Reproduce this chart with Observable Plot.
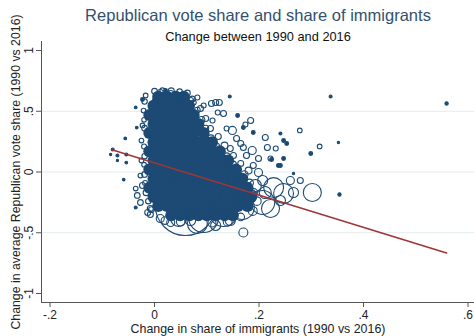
<!DOCTYPE html>
<html><head><meta charset="utf-8">
<script src="https://cdn.jsdelivr.net/npm/d3@7"></script>
<script src="https://cdn.jsdelivr.net/npm/@observablehq/plot@0.6"></script>
<style>body{margin:0;background:#fff} svg{display:block}</style>
</head><body><div id="chart"></div>
<script>
const titleText = "Republican vote share and share of immigrants";
const subtitleText = "Change between 1990 and 2016";
const xLabel = "Change in share of immigrants (1990 vs 2016)";
const yLabel = "Change in average Republican vote share (1990 vs 2016)";
const xTicks = [-0.2, 0, 0.2, 0.4, 0.6];
const yTicks = [-1, -0.5, 0, 0.5, 1];
const gridValues = [-0.5, 0, 0.5];

// dense core of the cloud (thousands of overlapping counties), approximated
const coreRowY = [0.62, 0.545, 0.47, 0.395, 0.32, 0.245, 0.17, 0.095, 0.02, -0.055, -0.13, -0.205, -0.28, -0.355];
const coreRowX = [
  [0.007, 0.024, 0.041, 0.056],
  [-0.002, 0.016, 0.032, 0.049, 0.066],
  [-0.010, 0.007, 0.024, 0.041, 0.058, 0.075],
  [-0.002, 0.015, 0.033, 0.050, 0.066, 0.084],
  [-0.010, 0.007, 0.024, 0.041, 0.058, 0.075, 0.094],
  [-0.002, 0.016, 0.032, 0.049, 0.067, 0.084, 0.100, 0.110],
  [-0.010, 0.007, 0.024, 0.041, 0.058, 0.075, 0.092, 0.109, 0.125],
  [-0.002, 0.015, 0.033, 0.050, 0.066, 0.083, 0.101, 0.118, 0.134, 0.141],
  [-0.010, 0.007, 0.024, 0.041, 0.058, 0.075, 0.092, 0.109, 0.126, 0.143, 0.156],
  [-0.002, 0.016, 0.032, 0.049, 0.067, 0.084, 0.100, 0.117, 0.135, 0.151, 0.168],
  [-0.010, 0.007, 0.024, 0.041, 0.058, 0.075, 0.092, 0.109, 0.126, 0.143, 0.160, 0.178],
  [-0.002, 0.015, 0.033, 0.050, 0.066, 0.083, 0.101, 0.118, 0.134, 0.152, 0.169, 0.185],
  [0.007, 0.024, 0.041, 0.058, 0.075, 0.092, 0.109, 0.126, 0.143, 0.160, 0.178],
  [0.032, 0.049, 0.067, 0.084, 0.100, 0.117, 0.134, 0.150]
];

// individually visible counties: change in immigrant share, change in GOP share, population (thousands)
const countyX = [
  -0.080, -0.071, -0.054, -0.054, -0.071, -0.084, -0.056, -0.036, -0.034, -0.023, -0.017,
  -0.059, -0.036, -0.033, -0.027, -0.036, -0.013, -0.008,
  0.011, 0.002, 0.031, 0.050, 0.069, 0.082, 0.021,
  0.144, 0.117, 0.124, 0.109, 0.075, 0.094, 0.159, 0.132, 0.121, 0.184, 0.174, 0.170, 0.149,
  0.189, 0.212, 0.241, 0.247, 0.187, 0.165, 0.170, 0.216, 0.232, 0.199, 0.222, 0.247, 0.189,
  0.237, 0.145, 0.278, 0.316, 0.299, 0.352, 0.337, 0.559, 0.253, 0.266, 0.241, 0.224,
  0.098, 0.107, 0.122, 0.134, 0.151, 0.165, 0.180, 0.111, 0.138, 0.157, 0.176, 0.199, 0.207, 0.088,
  0.228, 0.247, 0.302, 0.266, 0.222, 0.207, 0.168, 0.132, 0.094, 0.082, 0.059, 0.046, 0.170,
  0.354, 0.184, 0.193, 0.212, 0.165, 0.151, 0.260, 0.279, 0.241,
  0.011, 0.031, 0.069, 0.117, -0.008, 0.145,
  -0.021, -0.023, -0.025, -0.025, -0.027, -0.023,
  -0.019, -0.020, -0.019, -0.020, -0.019, -0.020, -0.019, -0.018, -0.016, -0.012, -0.006,
  0.000, 0.015, 0.032, 0.048, 0.063,
  0.072, 0.082, 0.090, 0.098, 0.108, 0.118, 0.138, 0.150, 0.172, 0.182, 0.190, 0.196, 0.188, 0.165,
  0.020, 0.050, 0.110, 0.140
];
const countyY = [
  0.185, 0.136, 0.144, 0.078, 0.095, 0.144, 0.276, 0.531, 0.366, 0.597, 0.630,
  -0.062, -0.136, -0.193, -0.251, -0.292, -0.333, -0.300,
  0.654, 0.588, 0.646, 0.630, 0.588, 0.613, 0.671,
  0.621, 0.572, 0.572, 0.564, 0.572, 0.547, 0.465, 0.481, 0.490, 0.424, 0.391, 0.366, 0.342,
  0.325, 0.284, 0.317, 0.259, 0.177, 0.235, 0.202, 0.202, 0.193, 0.111, 0.111, 0.111, 0.053,
  0.053, 0.193, 0.342, 0.210, 0.152, 0.243, 0.621, 0.564, 0.235, -0.012, 0.053, 0.103,
  0.440, 0.358, 0.292, 0.218, 0.136, 0.070, 0.012, 0.424, 0.358, 0.276, 0.136, -0.004, -0.070, 0.523,
  -0.128, -0.177, -0.169, -0.169, -0.300, -0.251, -0.292, -0.333, -0.374, -0.424, -0.276, -0.383, -0.498,
  -0.185, -0.193, -0.111, -0.169, -0.235, -0.070, -0.070, -0.070, -0.235,
  -0.383, -0.416, -0.399, -0.440, -0.350, -0.399,
  0.506, 0.383, 0.259, 0.095, -0.029, -0.111,
  0.580, 0.430, 0.360, 0.210, 0.130, 0.060, -0.020, -0.090, -0.170, -0.240, -0.310,
  0.665, 0.672, 0.668, 0.662, 0.650,
  0.600, 0.510, 0.430, 0.360, 0.280, 0.210, 0.130, 0.060, -0.020, -0.090, -0.170, -0.240, -0.320, -0.370,
  -0.400, -0.410, -0.420, -0.410
];
const countyPop = [
  25, 25, 25, 20, 15, 15, 20, 20, 20, 40, 60,
  20, 60, 90, 90, 25, 100, 100,
  100, 100, 100, 100, 100, 70, 40,
  25, 100, 100, 100, 70, 70, 40, 100, 70, 100, 70, 40, 180,
  40, 100, 25, 40, 180, 100, 100, 100, 70, 100, 70, 40, 100,
  40, 100, 60, 60, 40, 15, 25, 30, 40, 15, 40, 40,
  100, 100, 100, 130, 100, 100, 130, 70, 70, 100, 100, 180, 280, 100,
  1100, 1100, 900, 280, 900, 1600, 1600, 2200, 2500, 1100, 10000, 700, 225,
  30, 400, 400, 400, 400, 280, 180, 100, 280,
  180, 180, 280, 280, 100, 280,
  60, 60, 60, 60, 60, 100,
  80, 60, 90, 70, 80, 60, 90, 70, 100, 80, 90,
  90, 70, 100, 80, 90,
  100, 90, 120, 100, 110, 130, 120, 140, 150, 160, 180, 200, 220, 160,
  160, 200, 180, 220
];

// fitted (weighted) regression line, read at its two ends
const fitX = [-0.080, 0.559];
const fitY = [0.181, -0.667];

const core = coreRowY.flatMap((y, i) => coreRowX[i].map(x => ({x, y})));
const counties = countyX.map((x, i) => ({x, y: countyY[i], pop: countyPop[i]}));
const fit = fitX.map((x, i) => ({x, y: fitY[i]}));

const fmt = d => d === 0 ? "0" : (d < 0 ? "-" : "") + String(Math.abs(d)).replace(/^0/, "");
const xDomain = [-0.2163, 0.6124];
const yDomain = [-1.074, 1.074];
const navy = "#1c4a74";

const chart = Plot.plot({
  width: 474, height: 336,
  marginLeft: 41, marginRight: 0, marginTop: 41, marginBottom: 34,
  x: {domain: xDomain},
  y: {domain: yDomain},
  r: {type: "sqrt", domain: [0, 10000], range: [0, 30]},
  style: {fontFamily: "'Liberation Sans', Arial, sans-serif", background: "#fff", overflow: "visible"},
  marks: [
    Plot.ruleY(gridValues, {stroke: "#e3ebee", strokeWidth: 1}),
    Plot.dot(core, {x: "x", y: "y", r: 6, fill: navy, stroke: "none"}),
    Plot.dot(counties, {x: "x", y: "y", r: "pop", stroke: navy, strokeWidth: 1.1, fill: d => d.pop < 50 ? navy : "none"}),
    Plot.line(fit, {x: "x", y: "y", stroke: "#9e3536", strokeWidth: 1.6}),
    Plot.ruleX([xDomain[0]], {stroke: "#555", strokeWidth: 1}),
    Plot.ruleY([yDomain[0]], {stroke: "#555", strokeWidth: 1}),
    Plot.axisX({ticks: xTicks, tickFormat: fmt, tickSize: 5, tickPadding: 3, fontSize: 12, stroke: "#555", fill: "#222", label: null}),
    Plot.axisY({ticks: yTicks, tickFormat: fmt, tickSize: 5, tickPadding: 4, tickRotate: -90, fontSize: 12, stroke: "#555", fill: "#222", label: null}),
    Plot.text([titleText], {text: d => d, frameAnchor: "top", dy: -20.5, lineAnchor: "bottom", fontSize: 16.5, fill: "#34506e"}),
    Plot.text([subtitleText], {text: d => d, frameAnchor: "top", dy: -0.5, lineAnchor: "bottom", fontSize: 12.8, fill: "#111"}),
    Plot.text([xLabel], {text: d => d, frameAnchor: "bottom", dy: 30.5, lineAnchor: "bottom", fontSize: 12.4, fill: "#222"}),
    Plot.text([yLabel], {text: d => d, frameAnchor: "left", dx: -22, rotate: -90, textAnchor: "middle", lineAnchor: "bottom", fontSize: 12.3, fill: "#222"})
  ]
});
document.getElementById("chart").appendChild(chart);
</script>
</body></html>
